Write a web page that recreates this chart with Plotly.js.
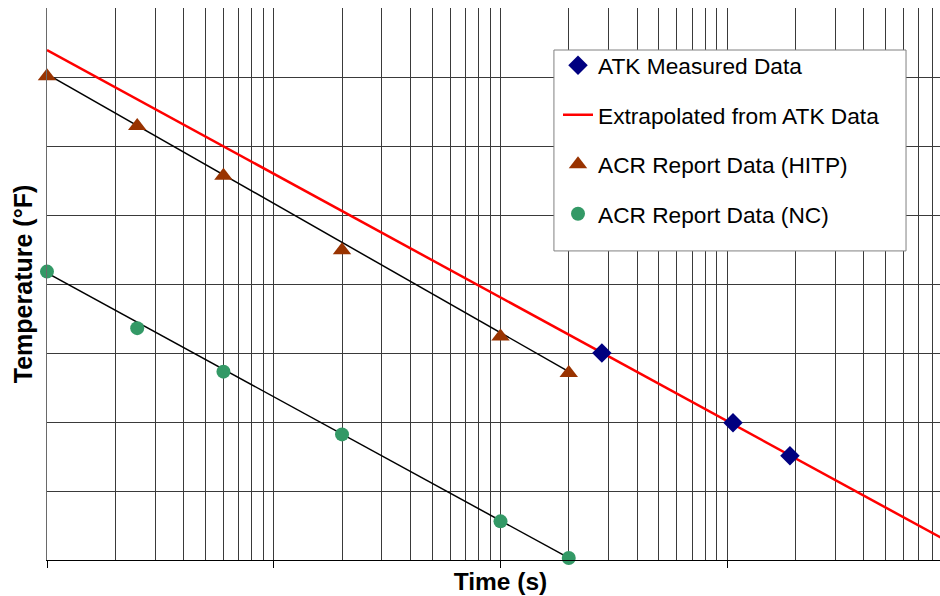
<!DOCTYPE html>
<html>
<head>
<meta charset="utf-8">
<script src="https://cdn.plot.ly/plotly-3.0.1.min.js"></script>
<style>
html, body { margin: 0; padding: 0; overflow: hidden; background: #ffffff; }
#chart { width: 960px; height: 596px; }
</style>
</head>
<body>
<div id="chart"></div>
<script>
// ---- data ----
const timeHITP = [1, 2.5, 6, 20, 100, 200];
const tempHITP = [701, 629, 557, 449, 324, 271];
const timeNC = [1, 2.5, 6, 20, 100, 200];
const tempNC = [418, 336, 273, 182, 56, 3];
const timeATK = [280, 1060, 1890];
const tempATK = [300, 199, 151];
const extrapTime = [1, 10000];
const extrapTemp = [739, 22];
const hitpFitTime = [1, 200];
const hitpFitTemp = [704, 273];
const ncFitTime = [1, 200];
const ncFitTemp = [416, 3];
const legendNames = ["ATK Measured Data", "Extrapolated from ATK Data", "ACR Report Data (HITP)", "ACR Report Data (NC)"];

// log-axis grid values
const majorVals = [];
const minorVals = [];
for (let d = 0; d <= 4; d++) {
  const base = Math.pow(10, d);
  majorVals.push(base);
  if (d < 4) for (let k = 2; k <= 9; k++) minorVals.push(k * base);
}

const FONT = "Liberation Sans, Arial, Helvetica, sans-serif";
const GRID = "#3a3a3a";

const traces = [
  { x: hitpFitTime, y: hitpFitTemp, mode: "lines", line: { color: "#000000", width: 1.5 }, showlegend: false, hoverinfo: "skip" },
  { x: ncFitTime, y: ncFitTemp, mode: "lines", line: { color: "#000000", width: 1.5 }, showlegend: false, hoverinfo: "skip" },
  { x: extrapTime, y: extrapTemp, mode: "lines", name: legendNames[1], legendgroup: "g2", legendrank: 2,
    line: { color: "#ff0000", width: 2.5 } },
  { x: timeATK, y: tempATK, mode: "markers", name: legendNames[0], legendgroup: "g1", legendrank: 1, cliponaxis: false,
    marker: { symbol: "diamond", size: 15, color: "#000080" } },
  { x: timeHITP, y: tempHITP, mode: "markers", name: legendNames[2], legendgroup: "g3", legendrank: 3, cliponaxis: false,
    marker: { symbol: "triangle-up", size: 16, color: "#993300" } },
  { x: timeNC, y: tempNC, mode: "markers", name: legendNames[3], legendgroup: "g4", legendrank: 4, cliponaxis: false,
    marker: { symbol: "circle", size: 14, color: "#339966" } }
];

const layout = {
  width: 960, height: 596,
  margin: { l: 47, r: 6, t: 8, b: 36 },
  paper_bgcolor: "#ffffff", plot_bgcolor: "#ffffff",
  font: { family: FONT, color: "#000000" },
  xaxis: {
    type: "log", range: [0, 4], autorange: false,
    tickmode: "array", tickvals: majorVals, showticklabels: false,
    ticks: "outside", ticklen: 7, tickcolor: "#000000", tickwidth: 1,
    showgrid: true, gridcolor: GRID, gridwidth: 1,
    minor: { tickmode: "array", tickvals: minorVals, showgrid: true, gridcolor: GRID, gridwidth: 1, ticks: "" },
    showline: true, linecolor: "#000000", linewidth: 1, mirror: false,
    zeroline: false,
    title: { text: "Time (s)", font: { size: 24.5, weight: "bold", family: FONT }, standoff: 5 }
  },
  yaxis: {
    range: [0, 800], autorange: false, dtick: 100, tick0: 0,
    showticklabels: false, ticks: "",
    showgrid: true, gridcolor: GRID, gridwidth: 1,
    showline: true, linecolor: "#6a6a6a", linewidth: 1, mirror: true,
    zeroline: false,
    title: { text: "Temperature (°F)", font: { size: 25, weight: "bold", family: FONT }, standoff: 6 }
  },
  // legend frame (box behind the legend entries)
  shapes: [{
    type: "rect", xref: "paper", yref: "paper", layer: "above",
    x0: 0.5589, x1: 0.9471, y0: 0.5599, y1: 0.9239,
    fillcolor: "#ffffff", line: { color: "#808080", width: 1 }
  }],
  legend: {
    x: 0.5634, y: 0.9348, xanchor: "left", yanchor: "top",
    bgcolor: "rgba(0,0,0,0)", borderwidth: 0,
    font: { size: 22.7, family: FONT, color: "#000000" },
    traceorder: "grouped", tracegroupgap: 17
  },
  showlegend: true
};

Plotly.newPlot("chart", traces, layout, { staticPlot: true, displayModeBar: false });
</script>
</body>
</html>
